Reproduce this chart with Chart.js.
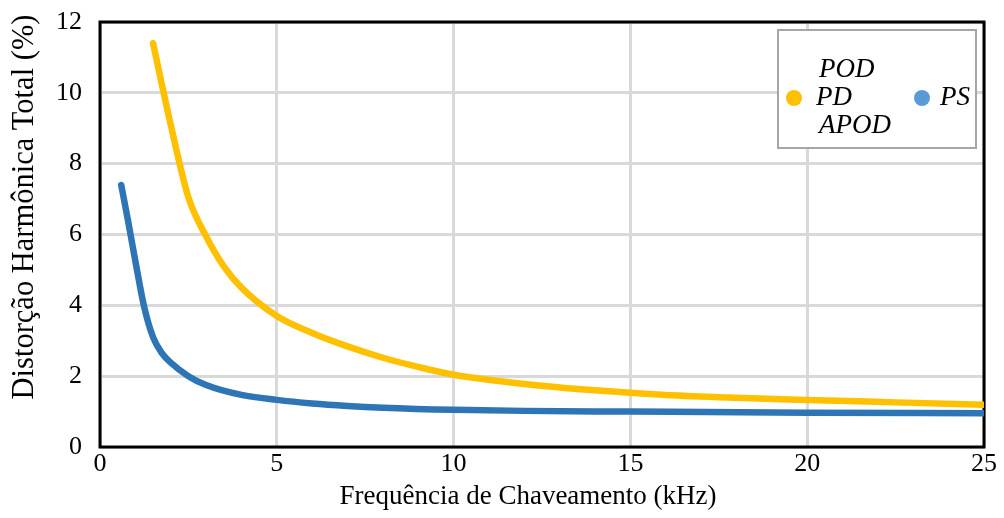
<!DOCTYPE html>
<html>
<head>
<meta charset="utf-8">
<script src="https://cdn.jsdelivr.net/npm/chart.js@4/dist/chart.umd.min.js"></script>
<style>
  html, body { margin: 0; padding: 0; background: #ffffff; }
  #wrap { width: 1004px; height: 518px; }
</style>
</head>
<body>
<div id="wrap"><canvas id="thd" width="1004" height="518"></canvas></div>
<script>
// Switching frequency (kHz) and total harmonic distortion (%) for each modulation scheme
const freqPD = [1.5, 2, 2.5, 3, 3.5, 4, 5, 6, 7, 8, 9, 10, 12, 14, 16, 18, 20, 22.5, 25];
const thdPD  = [11.4, 9.1, 7.05, 5.95, 5.1, 4.5, 3.7, 3.22, 2.84, 2.52, 2.26, 2.04, 1.78, 1.6, 1.47, 1.39, 1.33, 1.26, 1.19];

const freqPS = [0.6, 0.8, 1.0, 1.25, 1.5, 1.75, 2.0, 2.5, 3, 4, 5, 6, 7, 8, 10, 12, 15, 20, 25];
const thdPS  = [7.4, 6.35, 5.25, 3.95, 3.1, 2.65, 2.38, 2.0, 1.75, 1.47, 1.33, 1.23, 1.16, 1.11, 1.05, 1.02, 1.0, 0.97, 0.95];

const seriesNames = [['POD', 'PD', 'APOD'], ['PS']];
const lineColors = ['#FFC000', '#2E75B6'];
const markerColors = ['#FFC000', '#5B9BD5'];

const xTicks = [0, 5, 10, 15, 20, 25];
const yTicks = [0, 2, 4, 6, 8, 10, 12];

const xTitle = 'Frequência de Chaveamento (kHz)';
const yTitle = 'Distorção Harmônica Total (%)';

const FONT = "'Liberation Serif', 'Times New Roman', serif";

function toPoints(xs, ys) { return xs.map((x, i) => ({ x: x, y: ys[i] })); }

// Black frame around the plotting area (drawn beneath the curves)
const plotFrame = {
  id: 'plotFrame',
  beforeDatasetsDraw(chart) {
    const { ctx, chartArea: a } = chart;
    ctx.save();
    ctx.strokeStyle = '#000000';
    ctx.lineWidth = 3;
    ctx.strokeRect(a.left, a.top, a.right - a.left, a.bottom - a.top);
    ctx.restore();
  }
};

// Axis titles, placed relative to the plot area
const axisTitles = {
  id: 'axisTitles',
  afterDraw(chart) {
    const { ctx, chartArea: a } = chart;
    ctx.save();
    ctx.fillStyle = '#000000';
    ctx.textAlign = 'center';
    ctx.textBaseline = 'middle';
    ctx.font = "27px " + FONT;
    ctx.fillText(xTitle, a.left + 428, a.bottom + 50);
    ctx.translate(a.left - 75, a.top + 185);
    ctx.rotate(-Math.PI / 2);
    ctx.font = "30.5px " + FONT;
    ctx.fillText(yTitle, 0, 0);
    ctx.restore();
  }
};

// Boxed legend in the upper right corner of the plot
const boxLegend = {
  id: 'boxLegend',
  afterDatasetsDraw(chart) {
    const { ctx, chartArea: a } = chart;
    const left = a.right - 206, top = a.top + 8, w = 198, h = 118;
    ctx.save();
    ctx.fillStyle = '#ffffff';
    ctx.fillRect(left, top, w, h);
    ctx.strokeStyle = '#A6A6A6';
    ctx.lineWidth = 2;
    ctx.strokeRect(left, top, w, h);

    const cy = top + 68;
    const entries = [
      { dx: 16, tx: 38, i: 0 },
      { dx: 144, tx: 162, i: 1 }
    ];
    ctx.font = "italic 27px " + FONT;
    ctx.textBaseline = 'middle';
    ctx.textAlign = 'left';
    entries.forEach(e => {
      const ds = chart.data.datasets[e.i];
      ctx.fillStyle = markerColors[e.i];
      ctx.beginPath();
      ctx.arc(left + e.dx, cy, 8, 0, Math.PI * 2);
      ctx.fill();
      ctx.fillStyle = '#000000';
      const lines = Array.isArray(ds.label) ? ds.label : [ds.label];
      const lh = 28;
      lines.forEach((t, k) => {
        const off = (k - (lines.length - 1) / 2) * lh;
        const indent = (lines.length > 1 && k !== 1) ? 3 : 0;
        ctx.fillText(t, left + e.tx + indent, cy + off);
      });
    });
    ctx.restore();
  }
};

new Chart(document.getElementById('thd'), {
  type: 'scatter',
  data: {
    datasets: [
      {
        label: seriesNames[0],
        data: toPoints(freqPD, thdPD),
        showLine: true,
        borderColor: lineColors[0],
        backgroundColor: markerColors[0],
        borderWidth: 6.5,
        borderCapStyle: 'round',
        borderJoinStyle: 'round',
        pointRadius: 0,
        cubicInterpolationMode: 'monotone'
      },
      {
        label: seriesNames[1],
        data: toPoints(freqPS, thdPS),
        showLine: true,
        borderColor: lineColors[1],
        backgroundColor: markerColors[1],
        borderWidth: 6.5,
        borderCapStyle: 'round',
        borderJoinStyle: 'round',
        pointRadius: 0,
        cubicInterpolationMode: 'monotone'
      }
    ]
  },
  options: {
    responsive: false,
    animation: false,
    events: [],
    layout: { padding: { top: 22, right: 20, left: 0, bottom: 0 } },
    plugins: {
      legend: { display: false },
      tooltip: { enabled: false }
    },
    scales: {
      x: {
        type: 'linear',
        min: xTicks[0],
        max: xTicks[xTicks.length - 1],
        afterBuildTicks(scale) { scale.ticks = xTicks.map(v => ({ value: v })); },
        afterFit(scale) { scale.height = 71; scale.paddingLeft = 0; scale.paddingRight = 0; },
        border: { display: false },
        grid: { color: '#D9D9D9', lineWidth: 3, drawTicks: false },
        ticks: {
          padding: 2,
          color: '#000000',
          font: { family: FONT, size: 26 }
        },
        title: { display: false }
      },
      y: {
        type: 'linear',
        min: yTicks[0],
        max: yTicks[yTicks.length - 1],
        afterBuildTicks(scale) { scale.ticks = yTicks.map(v => ({ value: v })); },
        afterFit(scale) { scale.width = 100; scale.paddingTop = 0; scale.paddingBottom = 0; },
        border: { display: false },
        grid: { color: '#D9D9D9', lineWidth: 3, drawTicks: false },
        ticks: {
          padding: 18,
          color: '#000000',
          font: { family: FONT, size: 26 }
        },
        title: { display: false }
      }
    }
  },
  plugins: [plotFrame, boxLegend, axisTitles]
});
</script>
</body>
</html>
